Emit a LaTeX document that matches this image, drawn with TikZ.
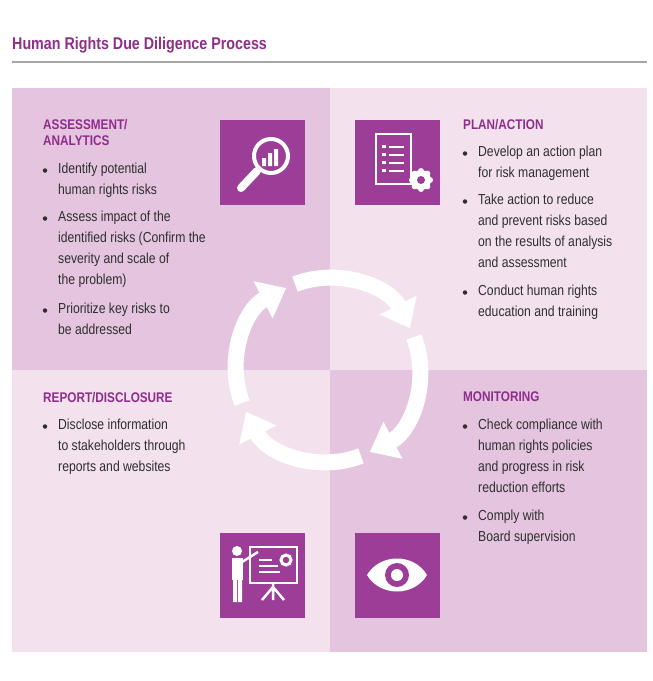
\documentclass[tikz,border=0pt]{standalone}
\usepackage{fontspec}
\setmainfont{Liberation Sans}[FakeStretch=0.84]
\usetikzlibrary{arrows.meta}
\definecolor{dk}{HTML}{E4C4DF}
\definecolor{lt}{HTML}{F3E2EE}
\definecolor{pu}{HTML}{9C3D97}
\definecolor{hd}{HTML}{8E2E8A}
\definecolor{tx}{HTML}{2F2F2F}
\tikzset{
 head/.style={anchor=north west,inner sep=0pt,align=left,font=\fontsize{14}{16.5}\selectfont\bfseries,text=hd},
 body/.style={anchor=north west,inner sep=0pt,align=left,font=\fontsize{14.5}{21}\selectfont,text=tx},
 dot/.style={circle,fill=tx,inner sep=0pt,minimum size=4.5pt},
 icon/.style={fill=pu,draw=none},
 cyc/.style={white,line width=16pt,-{Triangle[width=40pt,length=26pt]}},
 ic/.style={white,line width=3pt}
}
\newcommand{\bul}[4]{\node[dot] (#1d) at (#2-13,#3+7.5) {};\node[body] (#1) at (#2,#3) {#4};}
\begin{document}
\begin{tikzpicture}[x=1pt,y=-1pt]
\useasboundingbox (0,0) rectangle (653,681);
\fill[white] (0,0) rectangle (653,681);
\node[anchor=west,inner sep=0pt,font=\fontsize{17}{20}\selectfont\bfseries,text=hd] (title) at (12,45) {Human Rights Due Diligence Process};
\draw[gray!70,line width=2pt] (12,62) -- (647,62);
\fill[dk] (12,88) rectangle (330,370);
\fill[lt] (330,88) rectangle (647,370);
\fill[lt] (12,370) rectangle (330,652);
\fill[dk] (330,370) rectangle (647,652);
% cycle
\foreach \a in {0,90,180,270}{
 \draw[cyc] (328,370) ++({-111+\a}:92) arc[start angle={-111+\a},end angle={-27+\a},radius=92];
}
% icons
\fill[icon] (220,120) rectangle (305,205);
\fill[icon] (355,120) rectangle (440,205);
\fill[icon] (220,533) rectangle (305,618);
\fill[icon] (355,533) rectangle (440,618);
% magnifier
\draw[white,line width=4pt] (271,156) circle (17);
\draw[white,line width=8pt,line cap=round] (257,171) -- (241,188);
\fill[white] (262,158) rectangle (266,166) (268,153) rectangle (272,166) (274,149) rectangle (278,166);
% document
\draw[white,line width=2.5pt] (376,134) rectangle (411,184);
\foreach \yy in {145,153,161,169}{\fill[white] (382,\yy) rectangle (386,\yy+3); \draw[white,line width=2pt] (389,\yy+1.5) -- (404,\yy+1.5);}
\fill[white] (421,180) circle (10);
\foreach \g in {0,45,...,315}{\fill[white] (421,180) ++(\g:9) circle (3);}
\fill[pu] (421,180) circle (4);
% presenter
\fill[white] (237,551) circle (5);
\fill[white] (232,558) rectangle (243,580);
\fill[white] (233,580) rectangle (237,602) (238,580) rectangle (242,602);
\draw[white,line width=2.5pt] (242,562) -- (258,552);
\draw[white,line width=2.5pt] (250,547) rectangle (297,583);
\draw[white,line width=2pt] (259,566) -- (278,566) (259,572) -- (280,572) (259,560) -- (272,560);
\draw[white,line width=3pt] (286,560) circle (5);
\draw[white,line width=2.5pt] (273,583) -- (273,600) (273,587) -- (262,600) (273,587) -- (284,600);
% eye
\fill[white] (367,575) .. controls (380,553) and (414,553) .. (427,575) .. controls (414,597) and (380,597) .. (367,575);
\fill[pu] (397,575) circle (12);
\fill[white] (397,575) circle (6);
% texts
\node[head] (h1) at (43,119) {ASSESSMENT/\\ANALYTICS};
\bul{a1}{58}{163}{Identify potential\\human rights risks}
\bul{a2}{58}{211}{Assess impact of the\\identified risks (Confirm the\\severity and scale of\\the problem)}
\bul{a3}{58}{303}{Prioritize key risks to\\be addressed}
\node[head] (h2) at (463,119) {PLAN/ACTION};
\bul{b1}{478}{146}{Develop an action plan\\for risk management}
\bul{b2}{478}{194}{Take action to reduce\\and prevent risks based\\on the results of analysis\\and assessment}
\bul{b3}{478}{285}{Conduct human rights\\education and training}
\node[head] (h3) at (43,392) {REPORT/DISCLOSURE};
\bul{c1}{58}{419}{Disclose information\\to stakeholders through\\reports and websites}
\node[head] (h4) at (463,392) {MONITORING};
\bul{d1}{478}{419}{Check compliance with\\human rights policies\\and progress in risk\\reduction efforts}
\bul{d2}{478}{510}{Comply with\\Board supervision}
\end{tikzpicture}
\end{document}
